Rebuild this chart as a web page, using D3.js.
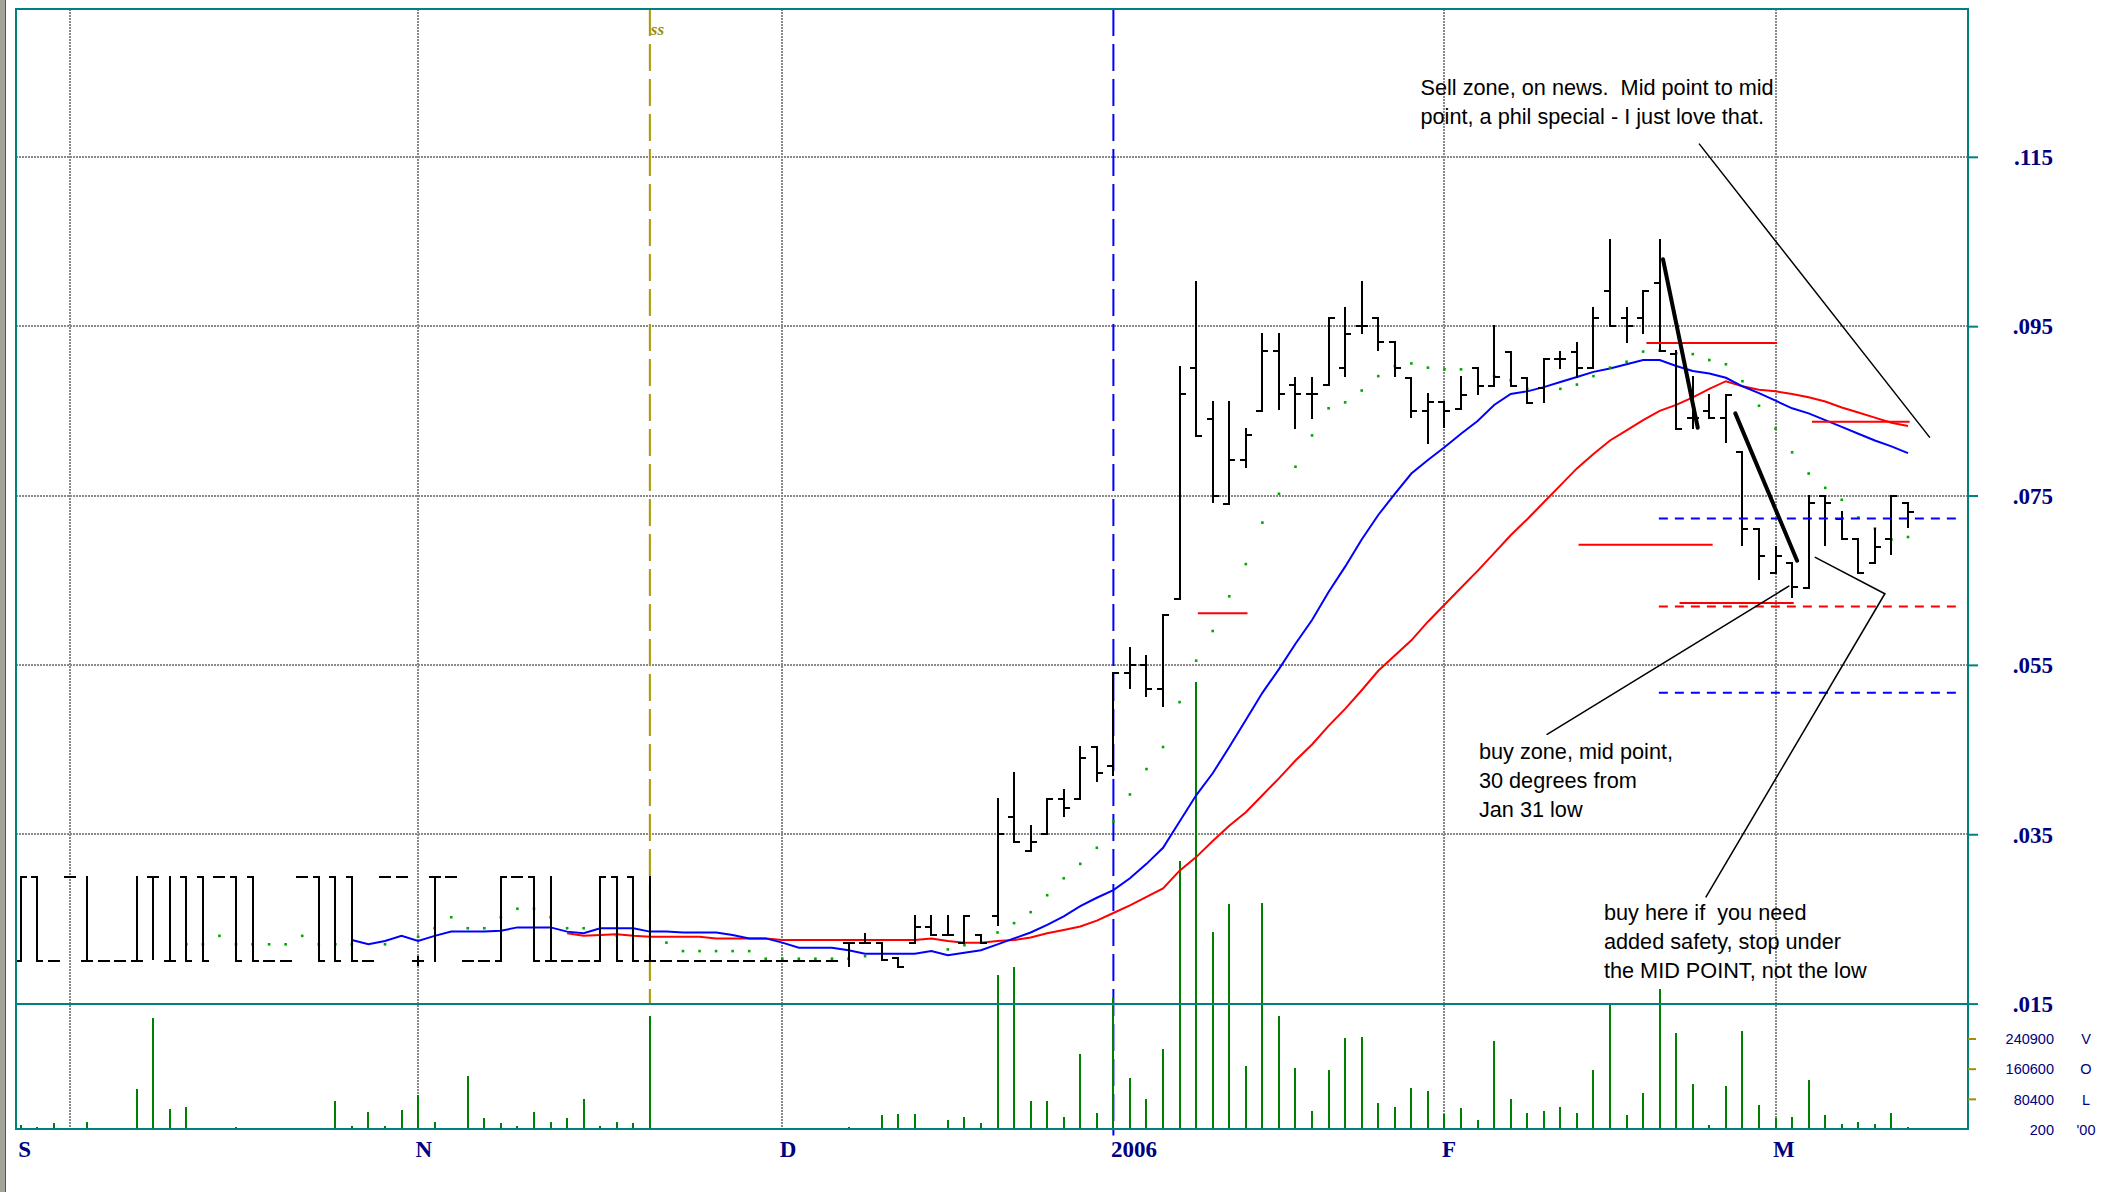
<!DOCTYPE html>
<html>
<head>
<meta charset="utf-8">
<script src="https://cdn.jsdelivr.net/npm/d3@7"></script>
<style>
	body { margin: 0; background: #fff; }
	svg { display: block; }
</style>
</head>
<body>
<svg id="chart" width="2101" height="1192"></svg>
<script>
'use strict';

// ---- data ----
// bar index 0..114, one bar per trading session
const opens = [
	.020, .030, .020, .030, .020, .020, .020, .020, .030, .020,   // 0
	.030, .030, .030, .030, .030, .020, .020, .030, .030, .030,   // 10
	.030, .020, .030, .030, .020, .030, .030, .020, .020, .020,   // 20
	.030, .030, .020, .020, .020, .020, .030, .030, .020, .020,   // 30
	.020, .020, .020, .020, .020, .020, .020, .020, .020, .020,   // 40
	.0222, .0222, .0222, .0204, .0221, .0241, .0231, .0221, .0231, .0253, // 50
	.037, .033, .035, .0392, .0392, .0453, .043, .0541, .055, .0521,      // 60
	.0628, .0901, .084, .074, .0792, .085, .0921, .088, .087, .088,       // 70
	.0901, .095, .096, .0931, .0889, .085, .086, .0852, .0901, .0879,     // 80
	.092, .0889, .0877, .0911, .092, .0901, .0991, .096, .096, .1001,     // 90
	.0917, .0841, .085, .0841, .0801, .0711, .0659, .067, .0641, .075,    // 100
	.0722, .0699, .067, .0699, .0741                                       // 110
];
const highs = [
	.030, .030, .020, .030, .030, .020, .020, .030, .030, .030,
	.030, .030, .030, .030, .030, .020, .020, .030, .030, .030,
	.030, .020, .030, .030, .0205, .030, .030, .020, .020, .030,
	.030, .030, .030, .020, .020, .030, .030, .030, .030, .020,
	.020, .020, .020, .020, .020, .020, .020, .020, .020, .020,
	.0222, .0232, .0222, .0204, .0253, .0253, .0253, .0253, .0231, .0392,
	.0422, .036, .0392, .0402, .0453, .0453, .054, .057, .056, .0609,
	.0902, .1002, .086, .086, .0828, .0941, .0941, .0889, .0889, .096,
	.0972, .1002, .096, .0931, .0889, .087, .086, .089, .0901, .095,
	.092, .0889, .0911, .092, .093, .0972, .1052, .0972, .0991, .1052,
	.0921, .089, .0869, .0869, .0801, .0711, .0689, .067, .075, .075,
	.0731, .0699, .0711, .075, .0741
];
const lows = [
	.020, .020, .020, .030, .020, .020, .020, .020, .0203, .020,
	.020, .020, .030, .020, .020, .020, .020, .030, .020, .020,
	.020, .020, .030, .030, .0195, .020, .030, .020, .020, .020,
	.030, .020, .020, .020, .020, .020, .020, .020, .020, .020,
	.020, .020, .020, .020, .020, .020, .020, .020, .020, .020,
	.0194, .0222, .0202, .0193, .0221, .0231, .0231, .0221, .0222, .0243,
	.0341, .033, .035, .0372, .0392, .0413, .042, .0523, .0513, .0501,
	.0628, .082, .0742, .074, .0784, .085, .0852, .083, .0842, .088,
	.0891, .0942, .0922, .0891, .0843, .0812, .0831, .0852, .087, .0879,
	.0879, .0859, .0861, .0901, .089, .0901, .095, .0931, .0942, .0921,
	.0829, .083, .0841, .0813, .0691, .0652, .0659, .063, .0641, .0691,
	.0699, .0659, .067, .0681, .0713
];
const closes = [
	.030, .020, .020, .030, .020, .020, .020, .020, .030, .020,
	.020, .020, .030, .020, .020, .020, .020, .030, .020, .020,
	.020, .020, .030, .030, .020, .030, .030, .020, .020, .030,
	.030, .020, .020, .020, .020, .030, .020, .020, .020, .020,
	.020, .020, .020, .020, .020, .020, .020, .020, .020, .020,
	.0222, .0222, .0202, .0193, .0241, .0231, .0231, .0253, .0222, .035,
	.0341, .0341, .0392, .0381, .044, .0422, .054, .055, .0521, .0609,
	.087, .082, .075, .0792, .0821, .0921, .087, .087, .087, .096,
	.0941, .095, .0931, .0901, .085, .086, .085, .0869, .0879, .089,
	.0879, .0859, .0911, .0911, .0901, .096, .095, .095, .0991, .0921,
	.0829, .0841, .0841, .0869, .0711, .0679, .0679, .0642, .0741, .0741,
	.0699, .0659, .0689, .075, .0731
];
// volume, in the units of the volume scale ('00)
const volumes = [
	10000, 6000, 15000, 0, 18000, 0, 0, 107000, 296000, 54000,
	58000, 3000, 2000, 6000, 2000, 2000, 0, 0, 0, 74000,
	8000, 46000, 8000, 52000, 90000, 18000, 1000, 141000, 29000, 15000,
	8000, 46000, 18000, 29000, 81000, 8000, 18000, 15000, 300000, 0,
	1500, 0, 0, 1500, 0, 0, 1500, 0, 0, 0,
	6000, 3000, 37000, 40000, 40000, 2000, 23000, 33000, 15000, 410000,
	432000, 74000, 74000, 31000, 201000, 43000, 349000, 136000, 81000, 213000,
	714000, 1189000, 525000, 598000, 168000, 602000, 300000, 163000, 48000, 157000,
	241000, 245000, 70000, 59000, 108000, 102000, 41000, 55000, 25000, 235000,
	81000, 43000, 48000, 59000, 43000, 157000, 332000, 37000, 97000, 372000,
	256000, 120000, 12000, 114000, 261000, 65000, 30000, 31000, 130000, 37000,
	14000, 18000, 14000, 44000, 6000
];
// green stop dots
const stopDots = [
	null, null, null, null, null, null, null, null, null, null,
	.022, .022, .023, .022, .022, .022, .022, .023, .022, .022,
	.022, null, .022, null, .0229, .0239, .0252, .0239, .0239, .0252,
	.0262, .0262, .0252, .0239, .0239, null, .023, null, null, .0222,
	.0212, .0212, .0212, .0212, .0212, .0203, .0203, .0203, .0203, .0203,
	.0203, .0206, null, null, null, null, .0214, .0219, null, .0234,
	.0245, .0258, .0278, .0298, .0315, .0334, .0365, .0397, .0427, .0453,
	.0506, .0555, .059, .0631, .0669, .0718, .0752, .0784, .0821, .0853,
	.086, .0874, .0891, .0903, .0906, .0901, .0899, .0899, null, .0891,
	.0886, .0876, null, .0876, .0881, .0891, .0901, .0908, .092, .0921,
	.0918, .0917, .091, .0905, .0885, .0856, .0829, .0801, .0776, .0759,
	.0745, .0724, .0711, .0698, .0701
];
// fast average (blue), starts at bar 20
const maFast = Array(20).fill(null).concat([
	.0225, .022, .0224, .023, .0224, .023, .0235, .0235, .0235, .0236,
	.024, .024, .024, .0235, .0233, .0239, .0239, .0239, .0235, .0235,
	.0234, .0234, .0234, .0231, .0227, .0227, .0222, .0216, .0216, .0216,
	.0213, .0209, .0209, .0209, .0209, .0212, .0207, .021, .0213, .022,
	.0227, .0234, .0243, .0253, .0265, .0275, .0284, .0298, .0315, .0334,
	.0365, .0396, .0422, .0453, .0485, .0517, .0545, .0575, .0603, .0636,
	.0666, .0698, .0727, .0752, .0776, .0792, .0807, .0823, .0838, .0857,
	.087, .0873, .0878, .0884, .089, .0896, .09, .0905, .091, .091,
	.0903, .0897, .0894, .0889, .0879, .0871, .0862, .0853, .0847, .0839,
	.0831, .0823, .0815, .0808, .08
]);
// slow average (red), starts at bar 33
const maSlow = Array(33).fill(null).concat([
	.0233, .023, .0231, .0232, .023, .0229, .0229,
	.0229, .0229, .0227, .0227, .0227, .0227, .0225, .0225, .0225, .0225,
	.0225, .0225, .0225, .0225, .0225, .0227, .0224, .0222, .0222, .0224,
	.0225, .0228, .0233, .0237, .0241, .0248, .0257, .0266, .0276, .0286,
	.0307, .0323, .0342, .036, .0376, .0396, .0416, .0437, .0456, .0478,
	.0498, .052, .0543, .0561, .0579, .0601, .0621, .0641, .0661, .0682,
	.0703, .0722, .0742, .0762, .0782, .0799, .0815, .0827, .0839, .085,
	.0857, .0866, .0876, .0885, .0879, .0875, .0873, .087, .0866, .0861,
	.0854, .0848, .0842, .0836, .0832
]);

const monthIdx = [0, 24, 46, 66, 86, 106];
const monthLabels = ['S', 'N', 'D', '2006', 'F', 'M'];
const gridIdx = [3, 24, 46, 86, 106];
const yearIdx = 66;
const ssIdx = 38;
const priceTicks = [0.015, 0.035, 0.055, 0.075, 0.095, 0.115];
const volTicks = [240900, 160600, 80400, 200];
const volLetters = ['V', 'O', 'L', "'00"];

// drawn-on lines: [fromIdx, toIdx, price]
const redMarks = [[71.1, 74.1, 0.0611], [98.2, 106.1, 0.093], [94.1, 102.2, 0.0692], [100.2, 107.1, 0.0623], [108.2, 114.1, 0.0837]];
const redDashed = [[98.95, 117.3, 0.0619]];
const blueDashed = [[98.95, 117.3, 0.0723], [98.95, 117.3, 0.0517]];
// trend strokes: [[idx, price], [idx, price]]
const thickStrokes = [[[99.2, 0.1029], [101.3, 0.083]], [[103.57, 0.0847], [107.3, 0.0673]]];
const pointers = [
	[[101.4, 0.1165], [115.3, 0.0819]],
	[[92.2, 0.0468], [106.8, 0.0643]],
	[[101.8, 0.0276], [112.6, 0.0634]],
	[[112.6, 0.0634], [108.4, 0.0677]]
];
const notes = [
	{ idx: 84.55, price: 0.12235, lines: ['Sell zone, on news.  Mid point to mid', 'point, a phil special - I just love that.'] },
	{ idx: 88.08, price: 0.04389, lines: ['buy zone, mid point,', '30 degrees from', 'Jan 31 low'] },
	{ idx: 95.63, price: 0.02487, lines: ['buy here if  you need', 'added safety, stop under', 'the MID POINT, not the low'] }
];

// ---- layout ----
const TEAL = '#008080', NAVY = '#000080', GRID = '#8a8a8a';
const frame = { left: 16, right: 1968, top: 9, split: 1003.6, bottom: 1128.6 };

const svg = d3.select('#chart');

const x = d3.scaleLinear().domain([0, 114]).range([20.8, 1908]);
const y = d3.scaleLinear().domain([0.015, 0.115]).range([1003.6, 156.8]);
const yv = d3.scaleLinear().domain([200, 240900]).range([1129, 1038.5]);

// window edge strip
svg.append('rect').attr('x', 0).attr('y', 0).attr('width', 5).attr('height', 1192).attr('fill', '#a4a498');
svg.append('line').attr('x1', 5.5).attr('x2', 5.5).attr('y1', 0).attr('y2', 1192).attr('stroke', '#555').attr('stroke-width', 1);

// grid
let grid = svg.append('g').attr('shape-rendering', 'crispEdges');
grid.selectAll('.hgrid').data(priceTicks.slice(1)).enter().append('line')
	.attr('class', 'hgrid')
	.attr('x1', frame.left).attr('x2', frame.right)
	.attr('y1', d => y(d)).attr('y2', d => y(d))
	.attr('stroke', GRID).attr('stroke-width', 2).attr('stroke-dasharray', '2,1');
grid.selectAll('.vgrid').data(gridIdx).enter().append('line')
	.attr('class', 'vgrid')
	.attr('x1', d => x(d)).attr('x2', d => x(d))
	.attr('y1', frame.top).attr('y2', frame.bottom)
	.attr('stroke', GRID).attr('stroke-width', 2).attr('stroke-dasharray', '2,1');

// olive 'ss' marker line and year line
svg.append('line')
	.attr('x1', x(ssIdx)).attr('x2', x(ssIdx)).attr('y1', frame.top).attr('y2', frame.split)
	.attr('stroke', '#a89a00').attr('stroke-width', 2).attr('stroke-dasharray', '27,8');
svg.append('text')
	.attr('x', x(ssIdx) + 1).attr('y', frame.top + 26)
	.attr('font-family', 'Liberation Serif').attr('font-style', 'italic').attr('font-weight', 'bold')
	.attr('font-size', 17).attr('fill', '#9a8a10').text('ss');
svg.append('line')
	.attr('x1', x(yearIdx)).attr('x2', x(yearIdx)).attr('y1', frame.top).attr('y2', frame.bottom + 7)
	.attr('stroke', '#0000ff').attr('stroke-width', 2).attr('stroke-dasharray', '27,8');

// volume
svg.append('g').attr('shape-rendering', 'crispEdges')
	.selectAll('line').data(volumes.map((v, i) => ({ i, v })).filter(d => d.v > 0)).enter().append('line')
	.attr('x1', d => x(d.i)).attr('x2', d => x(d.i))
	.attr('y1', yv(200)).attr('y2', d => yv(d.v))
	.attr('stroke', '#008000').attr('stroke-width', 2);

// averages
const maLine = d3.line().defined(d => d != null).x((d, i) => x(i)).y(d => y(d));
svg.append('path').datum(maSlow).attr('d', maLine).attr('fill', 'none').attr('stroke', '#ff0000').attr('stroke-width', 2);
svg.append('path').datum(maFast).attr('d', maLine).attr('fill', 'none').attr('stroke', '#0000ff').attr('stroke-width', 2);

// stop dots
svg.append('g').selectAll('rect').data(stopDots.map((p, i) => ({ i, p })).filter(d => d.p != null)).enter().append('rect')
	.attr('x', d => x(d.i) - 1.3).attr('y', d => y(d.p) - 1.3)
	.attr('width', 2.6).attr('height', 2.6).attr('fill', '#00a800');

// price bars
const bars = opens.map((o, i) => ({ i, o, h: highs[i], l: lows[i], c: closes[i] }));
const TICK = 6;
let gBars = svg.append('g').attr('stroke', '#000').attr('stroke-width', 2).attr('shape-rendering', 'crispEdges');
gBars.selectAll('.hl').data(bars.filter(d => d.h > d.l)).enter().append('line')
	.attr('class', 'hl')
	.attr('x1', d => x(d.i)).attr('x2', d => x(d.i))
	.attr('y1', d => y(d.h) - 1).attr('y2', d => y(d.l) + 1);
gBars.selectAll('.op').data(bars).enter().append('line')
	.attr('class', 'op')
	.attr('x1', d => x(d.i) - TICK).attr('x2', d => x(d.i))
	.attr('y1', d => y(d.o)).attr('y2', d => y(d.o));
gBars.selectAll('.cl').data(bars).enter().append('line')
	.attr('class', 'cl')
	.attr('x1', d => x(d.i)).attr('x2', d => x(d.i) + TICK)
	.attr('y1', d => y(d.c)).attr('y2', d => y(d.c));

// drawn-on levels
function levels(data, color, dash) {
	svg.append('g').selectAll('line').data(data).enter().append('line')
		.attr('x1', d => x(d[0])).attr('x2', d => x(d[1]))
		.attr('y1', d => y(d[2])).attr('y2', d => y(d[2]))
		.attr('stroke', color).attr('stroke-width', 2)
		.attr('stroke-dasharray', dash);
}
levels(redMarks, '#ff0000', null);
levels(redDashed, '#ff0000', '9,7');
levels(blueDashed, '#0000ff', '9,7');

function strokes(data, width) {
	svg.append('g').selectAll('line').data(data).enter().append('line')
		.attr('x1', d => x(d[0][0])).attr('y1', d => y(d[0][1]))
		.attr('x2', d => x(d[1][0])).attr('y2', d => y(d[1][1]))
		.attr('stroke', '#000').attr('stroke-width', width).attr('stroke-linecap', 'round');
}
strokes(pointers, 1.5);
strokes(thickStrokes, 4);

// notes
notes.forEach(n => {
	let t = svg.append('text')
		.attr('font-family', 'Liberation Sans, Arial, sans-serif').attr('font-size', 21.7)
		.attr('fill', '#000').style('white-space', 'pre');
	n.lines.forEach((s, k) => {
		t.append('tspan').attr('x', x(n.idx)).attr('y', y(n.price) + k * 29).text(s);
	});
});

// frame
let gFrame = svg.append('g').attr('stroke', TEAL).attr('stroke-width', 2).attr('fill', 'none').attr('shape-rendering', 'crispEdges');
gFrame.append('rect')
	.attr('x', frame.left).attr('y', frame.top)
	.attr('width', frame.right - frame.left).attr('height', frame.bottom - frame.top);
gFrame.append('line').attr('x1', frame.left).attr('x2', frame.right).attr('y1', frame.split).attr('y2', frame.split);

// price axis (right)
const priceAxis = d3.axisRight(y).tickValues(priceTicks).tickSize(10)
	.tickFormat(d => d3.format('.3f')(d).slice(1));
let gPrice = svg.append('g').attr('transform', `translate(${frame.right},0)`).call(priceAxis);
gPrice.select('.domain').remove();
gPrice.selectAll('line').attr('stroke', TEAL).attr('stroke-width', 2);
gPrice.selectAll('text')
	.attr('x', 85).attr('dy', '0.34em').attr('text-anchor', 'end')
	.attr('font-family', 'Liberation Serif, Times New Roman, serif').attr('font-weight', 'bold')
	.attr('font-size', 23).attr('fill', NAVY);

// volume axis (right)
const volAxis = d3.axisRight(yv).tickValues(volTicks).tickSize(8).tickFormat(d3.format('d'));
let gVol = svg.append('g').attr('transform', `translate(${frame.right},0)`).call(volAxis);
gVol.select('.domain').remove();
gVol.selectAll('line').attr('stroke', '#a09000').attr('stroke-width', 2)
	.attr('opacity', d => d === 200 ? 0 : 1);
gVol.selectAll('text')
	.attr('x', 86).attr('dy', '0.36em').attr('text-anchor', 'end')
	.attr('font-family', 'Liberation Sans, Arial, sans-serif').attr('font-size', 14.5)
	.attr('fill', NAVY);
gVol.selectAll('.tick').append('text')
	.attr('x', 118).attr('dy', '0.36em').attr('text-anchor', 'middle')
	.attr('font-family', 'Liberation Sans, Arial, sans-serif').attr('font-size', 14.5)
	.attr('fill', NAVY)
	.text((d, i) => volLetters[i]);

// month axis (bottom)
const monthAxis = d3.axisBottom(x).tickValues(monthIdx).tickSize(0)
	.tickFormat((d, i) => monthLabels[i]);
let gMonth = svg.append('g').attr('transform', `translate(0,${frame.bottom})`).call(monthAxis);
gMonth.select('.domain').remove();
gMonth.selectAll('text')
	.attr('x', -3).attr('y', 28).attr('dy', 0).attr('text-anchor', 'start')
	.attr('font-family', 'Liberation Serif, Times New Roman, serif').attr('font-weight', 'bold')
	.attr('font-size', 23).attr('fill', NAVY);
</script>
</body>
</html>
